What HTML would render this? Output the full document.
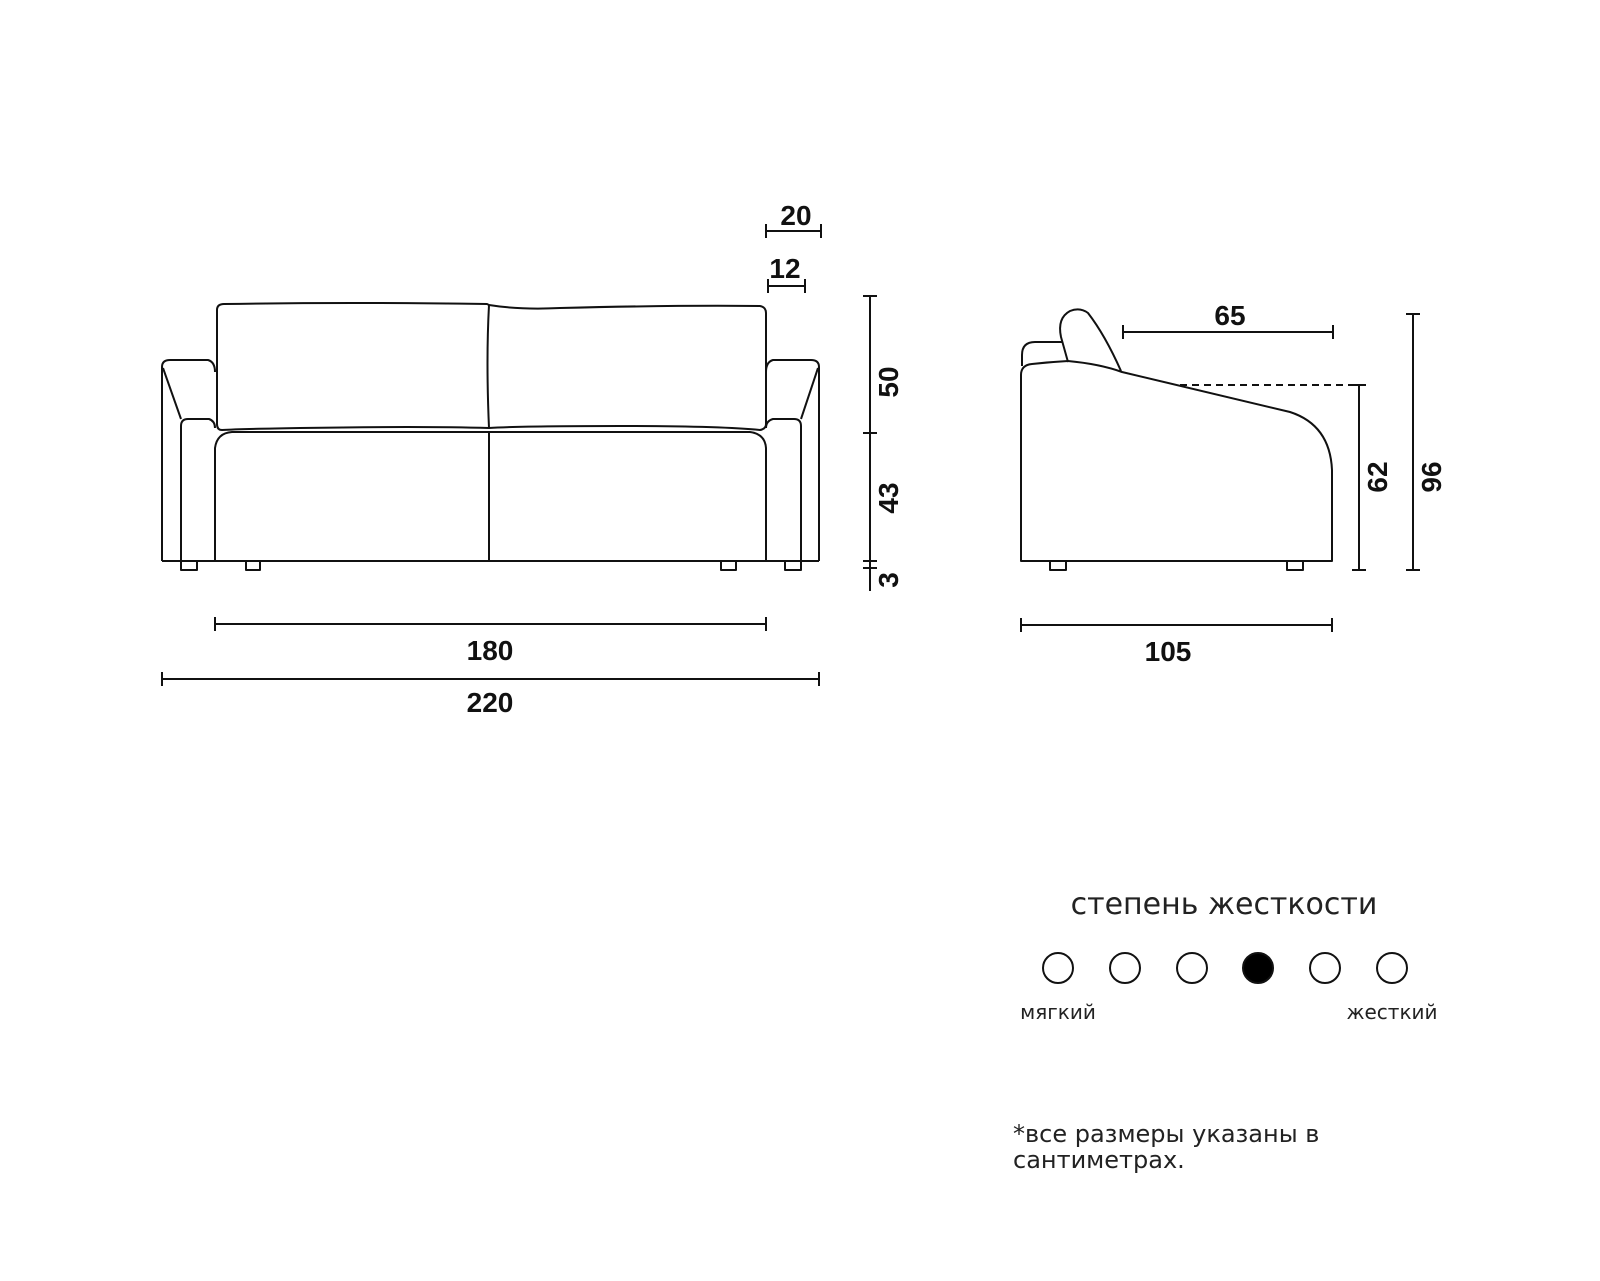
<!DOCTYPE html>
<html><head><meta charset="utf-8"><style>
html,body{margin:0;padding:0;background:#fff;}
svg{display:block;}
.n{font-family:"Liberation Sans",sans-serif;font-weight:bold;font-size:28px;fill:#111;}
.t{font-family:"DejaVu Sans","Liberation Sans",sans-serif;fill:#222;}
</style></head><body>
<svg width="1600" height="1281" viewBox="0 0 1600 1281" xmlns="http://www.w3.org/2000/svg">
<g fill="none" stroke="#111" stroke-width="2" stroke-linejoin="round">
<path d="M162 561 V367 Q162 360 170 360 H208 Q215 362 215 372"/>
<path d="M163 368 L181 419"/>
<path d="M181 561 V426 Q181 419 188 419 H209 Q215 421 215 428"/>
<path d="M819 561 V367 Q819 360 811 360 H773 Q766 362 766 372"/>
<path d="M818 368 L801 419"/>
<path d="M801 561 V426 Q801 419 794 419 H773 Q766 421 766 428"/>
<path d="M222 430 Q217 430 217 424 V310 Q217 304 224 304 Q350 302 487 304 L489 305 Q520 310 560 308 Q680 305 760 306 Q766 307 766 313 V424 Q766 429 760 430 Q720 426 620 426 Q520 426 489 428 Q420 426 300 428 Q240 429 222 430 Z"/>
<path d="M489 305 Q486 360 489 428"/>
<path d="M162 561 H819"/>
<path d="M215 561 V448 Q217 433 232 432 H750 Q765 434 766 448 V561"/>
<path d="M489 432 V561"/>
<path d="M181 561 V570 H197 V561 M246 561 V570 H260 V561 M721 561 V570 H736 V561 M785 561 V570 H801 V561"/>
<path d="M215 624 H766 M215 617 V631 M766 617 V631"/>
<path d="M162 679 H819 M162 672 V686 M819 672 V686"/>
<path d="M870 296 V591 M863 296 H877 M863 433 H877 M863 561 H877 M863 568 H877"/>
<path d="M766 231 H821 M766 224 V238 M821 224 V238"/>
<path d="M768 286 H805 M768 279 V293 M805 279 V293"/>
<path d="M1021 561 V375 Q1021 365 1032 364 Q1050 362 1068 361 Q1100 364 1122 372 L1290 412 Q1330 425 1332 470 V561 Z"/>
<path d="M1022 366 V355 Q1022 342 1035 342 H1063"/>
<path d="M1068 362 L1061 337 Q1057 318 1070 311 Q1080 307 1088 313 Q1105 335 1121 371"/>
<path d="M1050 561 V570 H1066 V561 M1287 561 V570 H1303 V561"/>
<path d="M1180 385 H1365" stroke-dasharray="7 5"/>
<path d="M1123 332 H1333 M1123 325 V339 M1333 325 V339"/>
<path d="M1021 625 H1332 M1021 618 V632 M1332 618 V632"/>
<path d="M1359 385 V570 M1352 385 H1366 M1352 570 H1366"/>
<path d="M1413 314 V570 M1406 314 H1420 M1406 570 H1420"/>
</g>
<g class="n" text-anchor="middle">
<text x="796" y="225">20</text>
<text x="785" y="278">12</text>
<text x="490" y="660">180</text>
<text x="490" y="712">220</text>
<text transform="translate(898 382) rotate(-90)">50</text>
<text transform="translate(898 498) rotate(-90)">43</text>
<text transform="translate(898 580) rotate(-90)">3</text>
<text x="1230" y="325">65</text>
<text x="1168" y="661">105</text>
<text transform="translate(1387 477) rotate(-90)">62</text>
<text transform="translate(1441 477) rotate(-90)">96</text>
</g>
<text class="t" x="1224" y="914" font-size="30" text-anchor="middle">степень жесткости</text>
<g stroke="#111" stroke-width="2" fill="none">
<circle cx="1058" cy="968" r="15"/><circle cx="1125" cy="968" r="15"/><circle cx="1192" cy="968" r="15"/>
<circle cx="1258" cy="968" r="15" fill="#000"/><circle cx="1325" cy="968" r="15"/><circle cx="1392" cy="968" r="15"/>
</g>
<text class="t" x="1058" y="1019" font-size="20" text-anchor="middle">мягкий</text>
<text class="t" x="1392" y="1019" font-size="20" text-anchor="middle">жесткий</text>
<text class="t" x="1013" y="1142" font-size="24">*все размеры указаны в</text>
<text class="t" x="1013" y="1168" font-size="24">сантиметрах.</text>
</svg>
</body></html>
